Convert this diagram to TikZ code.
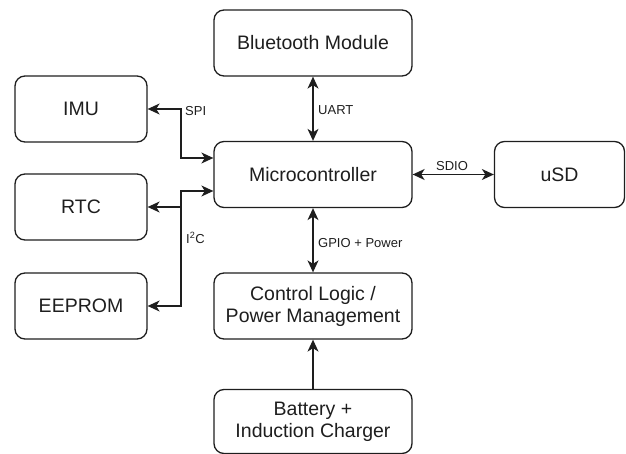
\documentclass[tikz,border=0pt]{standalone}
\usepackage{fontspec}
\setmainfont{Liberation Sans}
\usetikzlibrary{arrows.meta,positioning,calc}
\definecolor{ink}{HTML}{1E1E1E}
\begin{document}
\begin{tikzpicture}[x=1pt,y=-1pt,
  blk/.style={draw=ink,line width=1.3pt,rounded corners=10pt,inner sep=0pt,
    minimum width=198pt,minimum height=66pt,align=center,text=ink,
    font=\fontsize{19.5}{22}\selectfont},
  sblk/.style={blk,minimum width=132pt},
  conn/.style={draw=ink,line width=1.3pt,
    {Stealth[length=12pt,width=11pt,inset=3.5pt]}-{Stealth[length=12pt,width=11pt,inset=3.5pt]}},
  one/.style={draw=ink,line width=1.3pt,-{Stealth[length=12pt,width=11pt,inset=3.5pt]}},
  lbl/.style={text=ink,inner sep=0pt,font=\fontsize{13}{15}\selectfont}]
\useasboundingbox (0,0) rectangle (626,454);
\node[blk] (bt) at (313,43) {Bluetooth Module};
\node[blk] (mc) at (313,174.5) {Microcontroller};
\node[blk] (cl) at (313,306) {Control Logic /\\Power Management};
\node[blk,minimum height=64pt] (bat) at (313,421.5) {Battery +\\Induction Charger};
\node[sblk] (imu) at (81,109) {IMU};
\node[sblk] (rtc) at (81,207) {RTC};
\node[sblk] (eep) at (81,306) {EEPROM};
\node[sblk,minimum width=130pt] (usd) at (559.5,174.5) {uSD};
\coordinate (spiT) at ([yshift=16.5pt]mc.west);
\coordinate (i2cT) at ([yshift=-16.5pt]mc.west);
\coordinate (bus) at (181,207);
% SPI
\draw[conn] (imu.east) -- (181,109) |- (spiT);
% I2C
\draw[conn] (eep.east) -| (bus) |- (i2cT);
\draw[one] (bus) -- (rtc.east);
% UART, GPIO, SDIO, power
\draw[conn] (bt.south) -- (mc.north);
\draw[conn] (mc.south) -- (cl.north);
\draw[conn] (mc.east) -- (usd.west);
\draw[one] (bat.north) -- (cl.south);
% labels
\node[lbl,anchor=west] (lspi) at (185,111) {SPI};
\node[lbl,anchor=west] (li2c) at (186,238) {I\textsuperscript{2}C};
\node[lbl,anchor=west] (luart) at (318,110) {UART};
\node[lbl,anchor=west] (lgpio) at (318,243) {GPIO + Power};
\node[lbl] (lsdio) at (452,166) {SDIO};
\end{tikzpicture}
\end{document}
